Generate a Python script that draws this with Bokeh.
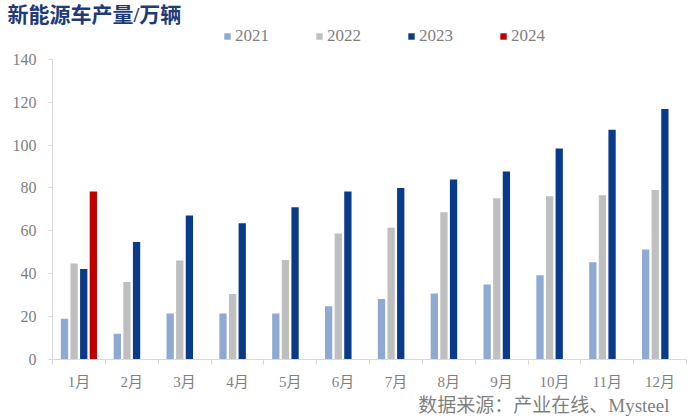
from bokeh.plotting import figure
from bokeh.models import (ColumnDataSource, FixedTicker, Legend, LegendItem, Title, Range1d)
from bokeh.transform import dodge
from bokeh.embed import file_html
from bokeh.resources import INLINE

months = ["1月", "2月", "3月", "4月", "5月", "6月", "7月", "8月", "9月", "10月", "11月", "12月"]
v2021 = [19.0, 12.0, 21.5, 21.5, 21.5, 24.8, 28.2, 30.8, 35.0, 39.3, 45.3, 51.3]
v2022 = [44.8, 36.2, 46.2, 30.5, 46.4, 58.8, 61.4, 68.7, 75.2, 76.1, 76.6, 79.1]
v2023 = [42.2, 54.8, 67.1, 63.5, 71.0, 78.4, 80.0, 83.9, 87.7, 98.4, 107.2, 116.8]
v2024 = [78.3]
years = ["2021", "2022", "2023", "2024"]
colors = ["#8EA9D2", "#BFBFBF", "#0A3A8A", "#C00000"]
y_ticks = [0, 20, 40, 60, 80, 100, 120, 140]
y_max = 140

xs = list(range(1, len(months) + 1))
src = ColumnDataSource(dict(x=xs, v2021=v2021, v2022=v2022, v2023=v2023))
src24 = ColumnDataSource(dict(x=xs[:len(v2024)], v2024=v2024))

W, H = 700, 420
border_top, border_bottom = 24, 61
axis_top_px = 57  # pixel row where the value axis ends (140)
frame_h = H - border_top - border_bottom
axis_h = H - axis_top_px - border_bottom
# extend the frame above the axis end so the legend (inside the frame) is not clipped
y_top = y_max * frame_h / axis_h

p = figure(width=W, height=H, output_backend="svg", toolbar_location=None,
           x_range=Range1d(0.5, 12.5), y_range=Range1d(0, y_top),
           min_border_left=52, min_border_right=14,
           min_border_top=border_top, min_border_bottom=border_bottom)
p.outline_line_color = None
p.xgrid.visible = False
p.ygrid.visible = False

pitch = 0.182
bw = 0.138
offs = [-1.5 * pitch, -0.5 * pitch, 0.5 * pitch, 1.5 * pitch]
renderers = []
for i, key in enumerate(["v2021", "v2022", "v2023"]):
    r = p.vbar(x=dodge("x", offs[i]), top=key, width=bw, bottom=0, source=src,
               fill_color=colors[i], line_color=None)
    renderers.append(r)
r = p.vbar(x=dodge("x", offs[3]), top="v2024", width=bw, bottom=0, source=src24,
           fill_color=colors[3], line_color=None)
renderers.append(r)

axis_col = "#D9D9D9"
lab_col = "#7F7F7F"
serif = "Liberation Serif, Noto Sans CJK SC"

xa = p.xaxis[0]
xa.ticker = FixedTicker(ticks=xs, minor_ticks=[x + 0.5 for x in range(0, 13)])
xa.major_label_overrides = {x: m for x, m in zip(xs, months)}
xa.major_tick_out = 0
xa.major_tick_in = 0
xa.minor_tick_out = 5
xa.minor_tick_in = 0
xa.minor_tick_line_color = axis_col
xa.axis_line_color = axis_col
xa.major_label_text_font = serif
xa.major_label_text_font_size = "15px"
xa.major_label_text_color = lab_col
xa.major_label_standoff = 9

ya = p.yaxis[0]
ya.ticker = FixedTicker(ticks=y_ticks)
ya.bounds = (0, y_max)
ya.major_tick_out = 4
ya.major_tick_in = 0
ya.minor_tick_out = 0
ya.minor_tick_in = 0
ya.major_tick_line_color = axis_col
ya.axis_line_color = axis_col
ya.major_label_text_font = serif
ya.major_label_text_font_size = "16px"
ya.major_label_text_color = lab_col
ya.major_label_standoff = 12

legend = Legend(items=[LegendItem(label=y, renderers=[r]) for y, r in zip(years, renderers)],
                orientation="horizontal", location=(171, 313),
                label_text_font=serif, label_text_font_size="17px", label_text_color=lab_col,
                label_height=16, glyph_width=8, glyph_height=8, label_standoff=4, spacing=46,
                padding=0, margin=0, border_line_color=None, background_fill_alpha=0)
p.add_layout(legend, "center")

p.title = Title(text="新能源车产量/万辆", text_font=serif, text_font_size="21px",
                text_font_style="bold", text_color="#1F3A78", align="left", offset=-45,
                standoff=0, text_line_height=1.0)

src_title = Title(text="数据来源：产业在线、Mysteel", text_font=serif, text_font_size="19px",
                  text_font_style="normal", text_color=lab_col, align="right", offset=17,
                  standoff=0)
p.add_layout(src_title, "below")

open("out.html", "w").write(file_html(p, INLINE))
